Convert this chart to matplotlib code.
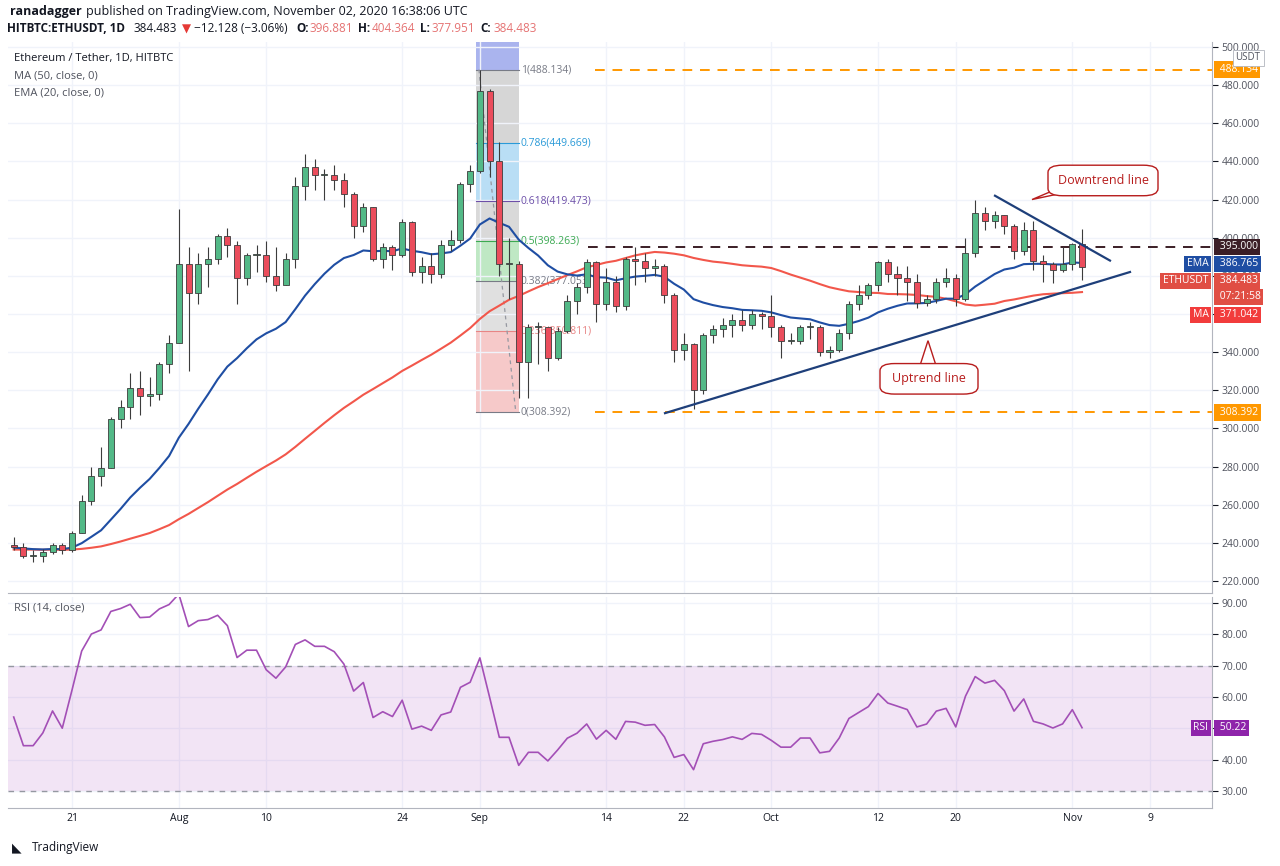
import numpy as np
import matplotlib
matplotlib.use("Agg")
import matplotlib.pyplot as plt
from matplotlib.patches import FancyBboxPatch, Polygon

plt.rcParams["font.family"] = ["Open Sans", "DejaVu Sans"]

W, H = 1280, 866
UP, DN = "#53b987", "#eb4d5c"

# ---- data: HITBTC ETHUSDT daily, Jul 15 .. Nov 2 2020 ----
pre_close = [205, 207, 200, 212, 214, 210, 208, 206, 201, 203, 220, 235, 231, 242, 232, 243,
             238, 244, 246, 243, 244, 244, 247, 245, 242, 233, 238, 232, 232, 231, 235, 235,
             232, 232, 230, 233, 232, 229, 227, 230, 225, 226, 224, 229, 231, 236, 240, 240,
             242, 239, 238, 242, 240, 240, 240, 240, 240, 240, 238, 239]
close = [238, 233, 233, 235, 239, 236, 245, 262, 275, 279, 305, 311, 321, 317, 318, 334, 345,
         386, 371, 386, 389, 401, 396, 379, 391, 391, 380, 375, 389, 427, 437, 433, 433, 430, 423,
         406, 416, 389, 395, 391, 408, 382, 385, 381, 396, 399, 428, 435,
         477, 440, 386, 386, 335, 353, 353, 337, 351, 367, 374, 387, 365, 377, 364, 389, 388, 384,
         385, 370, 341, 344, 320, 349, 352, 354, 357, 354, 360, 359,
         353, 346, 346, 353, 353, 340, 341, 350, 365, 370, 375, 387, 381, 379, 377, 366, 368, 377,
         379, 368, 392, 413, 409, 412, 406, 393, 404, 388, 386, 383, 386, 396.881, 384.483]
high = [243, 240, 236, 237, 240, 240, 246, 265, 280, 290, 306, 315, 329, 330, 327, 335, 349,
        415, 395, 392, 395, 402, 405, 398, 392, 396, 398, 395, 392, 432, 444, 441, 436, 438, 434,
        424, 418, 416, 397, 396, 410, 409, 390, 392, 399, 404, 429, 438,
        488, 478, 450, 400, 388, 355, 356, 353, 353, 370, 376, 389, 388, 384, 380, 390, 395, 392,
        389, 386, 371, 350, 345, 350, 354, 358, 360, 362, 362, 361,
        370, 354, 350, 354, 356, 354, 343, 352, 367, 375, 376, 388, 389, 385, 385, 381, 370, 379,
        384, 381, 400, 420, 416, 414, 412, 407, 408, 409, 391, 387, 395, 397, 404.364]
low = [236, 232, 230, 230, 234, 234, 235, 245, 260, 270, 279, 300, 305, 307, 312, 315, 329,
       345, 330, 365, 374, 386, 390, 365, 375, 382, 377, 372, 375, 384, 420, 425, 420, 425, 416,
       400, 403, 388, 384, 383, 390, 380, 376, 376, 379, 393, 397, 424,
       434, 432, 380, 368, 316, 316, 334, 330, 336, 350, 360, 371, 356, 362, 361, 362, 375, 377,
       380, 366, 335, 336, 310, 318, 345, 348, 348, 351, 352, 352,
       348, 337, 344, 344, 347, 338, 337, 340, 347, 362, 368, 372, 377, 370, 367, 363, 364, 366,
       374, 364, 367, 390, 404, 405, 402, 389, 391, 383, 377, 376, 382, 383, 377.951]
open_ = [pre_close[-1]] + close[:-1]
open_[-1] = 396.881

xtick_pos = [6, 17, 26, 40, 48, 61, 69, 78, 89, 97, 109, 117]
xtick_lab = ["21", "Aug", "10", "24", "Sep", "14", "22", "Oct", "12", "20", "Nov", "9"]

fib_ratio = [1, 0.786, 0.618, 0.5, 0.382, 0.236, 0]
fib_hi, fib_lo = 488.134, 308.392
fib_fill = ["#d6d6d6", "#b9def5", "#d9d9d9", "#bfe8c4", "#e0e0e0", "#f6c9c9"]
fib_txt = ["#787b86", "#2a9ad8", "#6d4fa8", "#3caa52", "#787b86", "#e88585", "#787b86"]

# ---- indicators ----
allc = np.array(pre_close + close, float)
n0 = len(pre_close)
ma50 = np.array([allc[i - 49:i + 1].mean() for i in range(len(allc))])[n0:]
ema = np.zeros_like(allc); ema[0] = allc[0]
k = 2 / 21
for i in range(1, len(allc)):
    ema[i] = allc[i] * k + ema[i - 1] * (1 - k)
ema20 = ema[n0:]
d = np.diff(allc)
g, l = np.clip(d, 0, None), np.clip(-d, 0, None)
ag, al = g[:14].mean(), l[:14].mean()
rsi_all = []
for i in range(14, len(d)):
    ag = (ag * 13 + g[i]) / 14
    al = (al * 13 + l[i]) / 14
    rsi_all.append(100 - 100 / (1 + ag / al))
rsi = np.array(rsi_all)[-len(close):]

x = np.arange(len(close))

# ---- figure ----
fig = plt.figure(figsize=(W / 100, H / 100), dpi=100)


def px_axes(l, t, r, b):
    return fig.add_axes([l / W, 1 - b / H, (r - l) / W, (b - t) / H])


def x_of(px):
    return (px - 13.7) / 9.712


def y_of(py):
    return 500 - (py - 47) / 1.907


ax = px_axes(8, 42, 1212, 593)
axr = px_axes(8, 597, 1212, 808)
for a in (ax, axr):
    a.set_xlim(x_of(8), x_of(1212))
    a.yaxis.tick_right()
    a.tick_params(axis="y", length=4, labelsize=7.5, colors="#131722", pad=3)
    a.tick_params(axis="x", length=0)
    a.set_xticks(xtick_pos)
    a.grid(True, color="#f0f3fa", lw=1)
    for s in a.spines.values():
        s.set_color("#b2b5be")
    a.spines["left"].set_visible(False)
    a.spines["top"].set_visible(False)
    a.set_axisbelow(True)
ax.set_xticklabels([])
axr.set_xticklabels(xtick_lab, fontsize=7.5, color="#131722")
for lab in axr.get_yticklabels() + ax.get_yticklabels():
    lab.set_color("#50535e")

ax.set_ylim(213.7, 502.6)
ax.set_yticks(np.arange(220, 501, 20))
ax.set_yticklabels([f"{v:.3f}" for v in range(220, 501, 20)])
axr.set_ylim(24.6, 91.9)
axr.set_yticks([30, 40, 50, 60, 70, 80, 90])
axr.set_yticklabels([f"{v:.2f}" for v in [30, 40, 50, 60, 70, 80, 90]])

# fib retracement
fx0, fx1 = 47.6, 52.0
lev = [fib_lo + r * (fib_hi - fib_lo) for r in fib_ratio]
ax.fill_between([fx0, fx1], fib_hi, 505, color="#aab4ee", zorder=0.5, lw=0)
for i in range(6):
    ax.fill_between([fx0, fx1], lev[i + 1], lev[i], color=fib_fill[i], zorder=0.5, lw=0)
for r, v, c in zip(fib_ratio, lev, fib_txt):
    ax.plot([fx0, fx1], [v, v], color=c, lw=0.8, zorder=0.6)
    ax.text(fx1 + 0.2, v, f"{r:g}({v:.3f})", color=c, fontsize=7.5, va="center", zorder=0.7)
ax.plot([fx0 + 0.3, fx1 - 0.3], [fib_hi, fib_lo], color="#9598a1", lw=0.9, ls=(0, (3, 3)), zorder=0.6)

# horizontal levels
ax.plot([x_of(595), x_of(1212)], [fib_hi] * 2, color="#ff9800", lw=1.4, ls=(0, (5, 4)))
ax.plot([x_of(595), x_of(1212)], [fib_lo] * 2, color="#ff9800", lw=1.4, ls=(0, (5, 4)))
ax.plot([x_of(588), x_of(1212)], [395] * 2, color="#3b1e26", lw=1.4, ls=(0, (5, 4)))

# moving averages
ax.plot(x, ma50, color="#f2574b", lw=1.5, zorder=2)
ax.plot(x, ema20, color="#1f4ea3", lw=1.5, zorder=2)

# candles
o, c, h, lo_ = map(np.array, (open_, close, high, low))
col = np.where(c >= o, UP, DN)
ax.vlines(x, lo_, h, colors="#3c3c3c", lw=0.8, zorder=3)
ax.bar(x, np.maximum(np.abs(c - o), 0.6), bottom=np.minimum(o, c), width=0.62,
       color=col, edgecolor="#3c3c3c", lw=0.6, zorder=4)

# trend lines
ax.plot([x_of(665), x_of(1130)], [308, 382], color="#1e3f7a", lw=1.6, zorder=5)
ax.plot([x_of(995), x_of(1110)], [422, 388], color="#1e3f7a", lw=1.6, zorder=5)


def callout(x0, y0, x1, y1, tip, base, text):
    ax.add_patch(Polygon([(x_of(base[0]), base[1]), (x_of(base[2]), base[3]), (x_of(tip[0]), tip[1])],
                         closed=True, fc="white", ec="#b71c1c", lw=1, zorder=6))
    ax.add_patch(FancyBboxPatch((x_of(x0), y0), x_of(x1) - x_of(x0), y1 - y0,
                                boxstyle="round,pad=0,rounding_size=1.5", fc="white",
                                ec="#b71c1c", lw=1, zorder=7, mutation_aspect=2.5))
    ax.text((x_of(x0) + x_of(x1)) / 2, (y0 + y1) / 2, text, ha="center", va="center",
            fontsize=9, color="#b71c1c", zorder=8)


callout(1048, 422, 1158, 438, (1032, 420), (1050, 424, 1068, 424), "Downtrend line")
callout(880, 318, 978, 334, (928, 346), (920, 333, 936, 333), "Uptrend line")

# right scale labels (stacked like the platform does)
tr = ax.get_yaxis_transform()


def tag(y, text, fc, ax_=ax, name=None):
    t = ax_.get_yaxis_transform()
    ax_.text(1.004, y, text, transform=t, fontsize=7.5, color="white", va="center", ha="left",
             zorder=20, clip_on=False, bbox=dict(boxstyle="square,pad=0.25", fc=fc, ec="none"))
    if name:
        ax_.text(0.997, y, name, transform=t, fontsize=7.5, color="white", va="center", ha="right",
                 zorder=20, clip_on=False, bbox=dict(boxstyle="square,pad=0.25", fc=fc, ec="none"))


tag(488.134, " 488.134", "#ff9800")
tag(y_of(247), " 395.000", "#3b1e26")
tag(y_of(264), " 386.765", "#1f4ea3", name="EMA")
tag(y_of(281), " 384.483", "#e04e44", name="ETHUSDT")
tag(y_of(297), " 07:21:58", "#e04e44")
tag(y_of(315), " 371.042", "#f23c3c", name="MA")
tag(308.392, " 308.392", "#ff9800")
ax.text(1.03, y_of(58), "USDT", transform=tr, fontsize=7, color="#50535e", ha="center", va="center",
        zorder=20, clip_on=False, bbox=dict(boxstyle="square,pad=0.3", fc="white", ec="#b2b5be", lw=0.6))

# RSI
axr.axhspan(30, 70, color="#9c27b0", alpha=0.12, lw=0)
axr.axhline(70, color="#9598a1", lw=1, ls=(0, (4, 4)))
axr.axhline(30, color="#9598a1", lw=1, ls=(0, (4, 4)))
axr.plot(x, rsi, color="#a34fb6", lw=1.2)
tag(float(rsi[-1]), " 50.22", "#8e24aa", ax_=axr, name="RSI")

# text
fig.text(10 / W, 1 - 12 / H, "ranadagger", fontsize=9, weight="bold", color="#131722", va="center")
fig.text(86 / W, 1 - 12 / H, "published on TradingView.com, November 02, 2020 16:38:06 UTC",
         fontsize=9, color="#131722", va="center")
parts = [(7, "HITBTC:ETHUSDT, 1D", "#131722", "bold"), (133, "384.483", "#131722", "normal"),
         (182, "▼", "#e53935", "normal"), (194, "−12.128 (−3.06%)", "#131722", "normal"),
         (296, "O:", "#131722", "bold"), (310, "396.881", "#e57373", "normal"),
         (358, "H:", "#131722", "bold"), (372, "404.364", "#e57373", "normal"),
         (420, "L:", "#131722", "bold"), (432, "377.951", "#e57373", "normal"),
         (480, "C:", "#131722", "bold"), (494, "384.483", "#e57373", "normal")]
for px, s, cc, w in parts:
    fig.text(px / W, 1 - 29 / H, s, fontsize=8.5, color=cc, weight=w, va="center")
fig.text(14 / W, 1 - 59 / H, "Ethereum / Tether, 1D, HITBTC", fontsize=8, color="#131722", va="center")
fig.text(14 / W, 1 - 76 / H, "MA (50, close, 0)", fontsize=8, color="#50535e", va="center")
fig.text(14 / W, 1 - 93 / H, "EMA (20, close, 0)", fontsize=8, color="#50535e", va="center")
fig.text(14 / W, 1 - 608 / H, "RSI (14, close)", fontsize=8, color="#50535e", va="center")
fig.text(32 / W, 1 - 848 / H, "TradingView", fontsize=8.5, color="#131722", va="center")
fig.text(12 / W, 1 - 848 / H, "◣", fontsize=9, color="#131722", va="center")

fig.savefig("out.png", dpi=100, facecolor="white")
